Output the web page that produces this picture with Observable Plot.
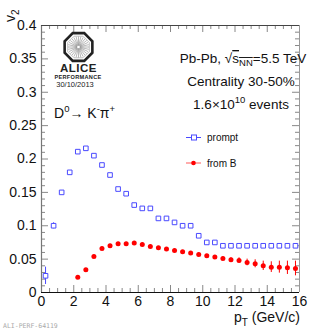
<!DOCTYPE html>
<html>
<head>
<meta charset="utf-8">
<script src="https://cdn.jsdelivr.net/npm/d3@7"></script>
<script src="https://cdn.jsdelivr.net/npm/@observablehq/plot@0.6"></script>
<style>
  html, body { margin: 0; padding: 0; background: #fff; }
  #chart { width: 316px; height: 332px; }
</style>
</head>
<body>
<div id="chart"></div>
<script>
// ---- data ----
const promptPt = [0.25,0.75,1.25,1.75,2.25,2.75,3.25,3.75,4.25,4.75,5.25,5.75,6.25,6.75,7.25,7.75,8.25,8.75,9.25,9.75,10.25,10.75,11.25,11.75,12.25,12.75,13.25,13.75,14.25,14.75,15.25,15.75];
const promptV2 = [0.025,0.100,0.150,0.180,0.211,0.216,0.205,0.191,0.176,0.155,0.148,0.131,0.126,0.126,0.111,0.111,0.105,0.100,0.100,0.085,0.075,0.075,0.070,0.070,0.070,0.070,0.070,0.070,0.070,0.070,0.070,0.070];
const promptErr = [0.013,0.0045,0.002,0.0015,0.0015,0.0015,0.0015,0.0015,0.0015,0.0015,0.0015,0.0015,0.0015,0.0015,0.0015,0.0015,0.0015,0.0015,0.0015,0.0015,0.0015,0.0015,0.0015,0.0015,0.0015,0.0015,0.0015,0.0015,0.0015,0.0015,0.0015,0.0015];
const fromBPt = [2.25,2.75,3.25,3.75,4.25,4.75,5.25,5.75,6.25,6.75,7.25,7.75,8.25,8.75,9.25,9.75,10.25,10.75,11.25,11.75,12.25,12.75,13.25,13.75,14.25,14.75,15.25,15.75];
const fromBV2 = [0.023,0.034,0.054,0.066,0.070,0.073,0.073,0.074,0.072,0.069,0.067,0.065,0.063,0.061,0.059,0.057,0.055,0.053,0.051,0.049,0.048,0.045,0.043,0.040,0.038,0.038,0.037,0.036];
const fromBErr = [0.002,0.002,0.002,0.002,0.002,0.002,0.002,0.002,0.002,0.002,0.002,0.002,0.002,0.002,0.002,0.002,0.002,0.002,0.0025,0.003,0.004,0.005,0.006,0.007,0.008,0.009,0.010,0.011];
const xTickLabels = [0,2,4,6,8,10,12,14,16];
const xMinorTicks = [0.5,1,1.5,2.5,3,3.5,4.5,5,5.5,6.5,7,7.5,8.5,9,9.5,10.5,11,11.5,12.5,13,13.5,14.5,15,15.5];
const yTickLabels = [0,0.05,0.1,0.15,0.2,0.25,0.3,0.35,0.4];
const yMinorTicks = [0.01,0.02,0.03,0.04,0.06,0.07,0.08,0.09,0.11,0.12,0.13,0.14,0.16,0.17,0.18,0.19,0.21,0.22,0.23,0.24,0.26,0.27,0.28,0.29,0.31,0.32,0.33,0.34,0.36,0.37,0.38,0.39];

const prompt = promptPt.map((x, i) => ({x, y: promptV2[i], e: promptErr[i]}));
const fromB = fromBPt.map((x, i) => ({x, y: fromBV2[i], e: fromBErr[i]}));

const W = 316, H = 332;
const mL = 41, mR = 17, mT = 25, mB = 40;
const blue = "#4a4aff", red = "#ff0000";
const tickCol = "#888";
// tick lengths expressed in data units (major ~7px, minor ~4px)
const pxX = 16 / (W - mL - mR), pxY = 0.4 / (H - mT - mB);
const majX = [2,4,6,8,10,12,14];
const majY = [0.05,0.1,0.15,0.2,0.25,0.3,0.35];

const plot = Plot.plot({
  width: W, height: H,
  marginLeft: mL, marginRight: mR, marginTop: mT, marginBottom: mB,
  style: {fontFamily: "'Liberation Sans', Arial, sans-serif", background: "#fff"},
  x: {domain: [0, 16], label: null},
  y: {domain: [0, 0.4], label: null},
  marks: [
    Plot.axisX(xTickLabels, {tickSize: 0, tickPadding: 4, fontSize: 14, fill: "#111", label: null, tickFormat: d => String(d)}),
    Plot.axisY(yTickLabels, {tickSize: 0, tickPadding: 5, fontSize: 14, fill: "#111", label: null, tickFormat: d => String(d)}),
    // inward ticks: bottom/top
    Plot.ruleX(majX, {x: d => d, y1: 0, y2: 7 * pxY, stroke: tickCol}),
    Plot.ruleX(xMinorTicks, {x: d => d, y1: 0, y2: 4 * pxY, stroke: tickCol}),
    Plot.ruleX(majX, {x: d => d, y1: 0.4, y2: 0.4 - 7 * pxY, stroke: tickCol}),
    Plot.ruleX(xMinorTicks, {x: d => d, y1: 0.4, y2: 0.4 - 4 * pxY, stroke: tickCol}),
    // left/right
    Plot.ruleY(majY, {y: d => d, x1: 0, x2: 7 * pxX, stroke: tickCol}),
    Plot.ruleY(yMinorTicks, {y: d => d, x1: 0, x2: 4 * pxX, stroke: tickCol}),
    Plot.ruleY(majY, {y: d => d, x1: 16, x2: 16 - 7 * pxX, stroke: tickCol}),
    Plot.ruleY(yMinorTicks, {y: d => d, x1: 16, x2: 16 - 4 * pxX, stroke: tickCol}),
    // frame
    Plot.ruleX([0], {stroke: "#777", strokeWidth: 1.2}),
    Plot.ruleX([16], {stroke: "#999"}),
    Plot.ruleY([0.4], {stroke: "#444"}),
    Plot.ruleY([0], {stroke: "#111", strokeWidth: 1.2}),
    // error bars
    Plot.ruleX(prompt, {x: "x", y1: d => d.y - d.e, y2: d => d.y + d.e, stroke: blue}),
    Plot.ruleX(fromB, {x: "x", y1: d => d.y - d.e, y2: d => d.y + d.e, stroke: red}),
    // points
    Plot.dot(prompt, {x: "x", y: "y", symbol: "square", r: 2.6, stroke: blue, fill: "white", strokeWidth: 1}),
    Plot.dot(fromB, {x: "x", y: "y", r: 2.5, fill: red, stroke: "none"})
  ]
});

const svg = d3.select(plot);
const font = "'Liberation Sans', Arial, sans-serif";
function txt(x, y, size, anchor, opts = {}) {
  return svg.append("text").attr("x", x).attr("y", y)
    .attr("font-size", size).attr("font-family", opts.family || font)
    .attr("text-anchor", anchor).attr("fill", opts.fill || "#111")
    .attr("font-weight", opts.weight || "normal");
}

// y-axis label v2
const yl = svg.append("text").attr("transform", "translate(15,22) rotate(-90)")
  .attr("font-size", 14).attr("font-family", font).attr("fill", "#111").attr("text-anchor", "start");
yl.append("tspan").text("v");
yl.append("tspan").attr("font-size", 10).attr("dy", 4).text("2");

// x-axis label
const xl = txt(300, 322, 14, "end");
xl.append("tspan").text("p");
xl.append("tspan").attr("font-size", 10).attr("dy", 4).text("T");
xl.append("tspan").attr("dy", -4).text(" (GeV/c)");

// annotations
const t1 = txt(243, 63, 13.5, "middle");
t1.append("tspan").text("Pb-Pb, ");
t1.append("tspan").text("\u221A");
t1.append("tspan").attr("style", "text-decoration: overline").text("s");
t1.append("tspan").attr("font-size", 9.5).attr("dy", 3).attr("style", "text-decoration: overline").text("NN");
t1.append("tspan").attr("dy", -3).text("=5.5 TeV");

txt(241, 86, 13.5, "middle").text("Centrality 30-50%");
const t3 = txt(241, 109, 13.5, "middle");
t3.append("tspan").text("1.6\u00D710");
t3.append("tspan").attr("font-size", 9.5).attr("dy", -6).text("10");
t3.append("tspan").attr("dy", 6).text(" events");

const t4 = txt(54, 118, 14, "start");
t4.append("tspan").text("D");
t4.append("tspan").attr("font-size", 9.5).attr("dy", -6).text("0");
t4.append("tspan").attr("dy", 6).text("\u2192 K");
t4.append("tspan").attr("font-size", 9.5).attr("dy", -6).text("-");
t4.append("tspan").attr("dy", 6).text("\u03C0");
t4.append("tspan").attr("font-size", 9.5).attr("dy", -6).text("+");

// legend
svg.append("line").attr("x1", 186).attr("x2", 201).attr("y1", 137.5).attr("y2", 137.5).attr("stroke", blue);
svg.append("rect").attr("x", 191.5).attr("y", 135).attr("width", 5).attr("height", 5).attr("fill", "white").attr("stroke", blue);
txt(207, 141, 10, "start").text("prompt");
svg.append("line").attr("x1", 186).attr("x2", 201).attr("y1", 163).attr("y2", 163).attr("stroke", "#ff9090").attr("stroke-width", 1.5);
svg.append("circle").attr("cx", 193.5).attr("cy", 163).attr("r", 2.3).attr("fill", red);
txt(207, 166.5, 10, "start").text("from B");

// ALICE logo
const lg = svg.append("g").attr("transform", "translate(78.5,47)");
const R = 15;
const oct = d3.range(8).map(i => { const a = Math.PI / 8 + i * Math.PI / 4; return [R * Math.cos(a), R * Math.sin(a)]; });
lg.append("polygon").attr("points", oct.map(p => p.join(",")).join(" ")).attr("fill", "white").attr("stroke", "#222").attr("stroke-width", 2.6);
const oct2 = oct.map(p => [p[0] * 0.78, p[1] * 0.78]);
lg.append("polygon").attr("points", oct2.map(p => p.join(",")).join(" ")).attr("fill", "none").attr("stroke", "#999").attr("stroke-width", 0.6);
d3.range(28).forEach(i => {
  const a = i * 2 * Math.PI / 28;
  lg.append("line").attr("x1", 1.5 * Math.cos(a)).attr("y1", 1.5 * Math.sin(a))
    .attr("x2", 10.5 * Math.cos(a)).attr("y2", 10.5 * Math.sin(a)).attr("stroke", "#888").attr("stroke-width", 0.6);
});
txt(78.5, 72, 11.5, "middle", {weight: "bold", fill: "#222"}).attr("letter-spacing", 0.5).text("ALICE");
txt(78, 79, 5.6, "middle", {weight: "bold", fill: "#222"}).attr("letter-spacing", 0.3).text("PERFORMANCE");
txt(75, 86.5, 7.5, "middle", {fill: "#222"}).text("30/10/2013");

// footer id
txt(3, 328, 6.5, "start", {family: "'DejaVu Sans Mono', monospace", fill: "#aaa"}).text("ALI-PERF-64119");

document.getElementById("chart").appendChild(plot);
</script>
</body>
</html>
